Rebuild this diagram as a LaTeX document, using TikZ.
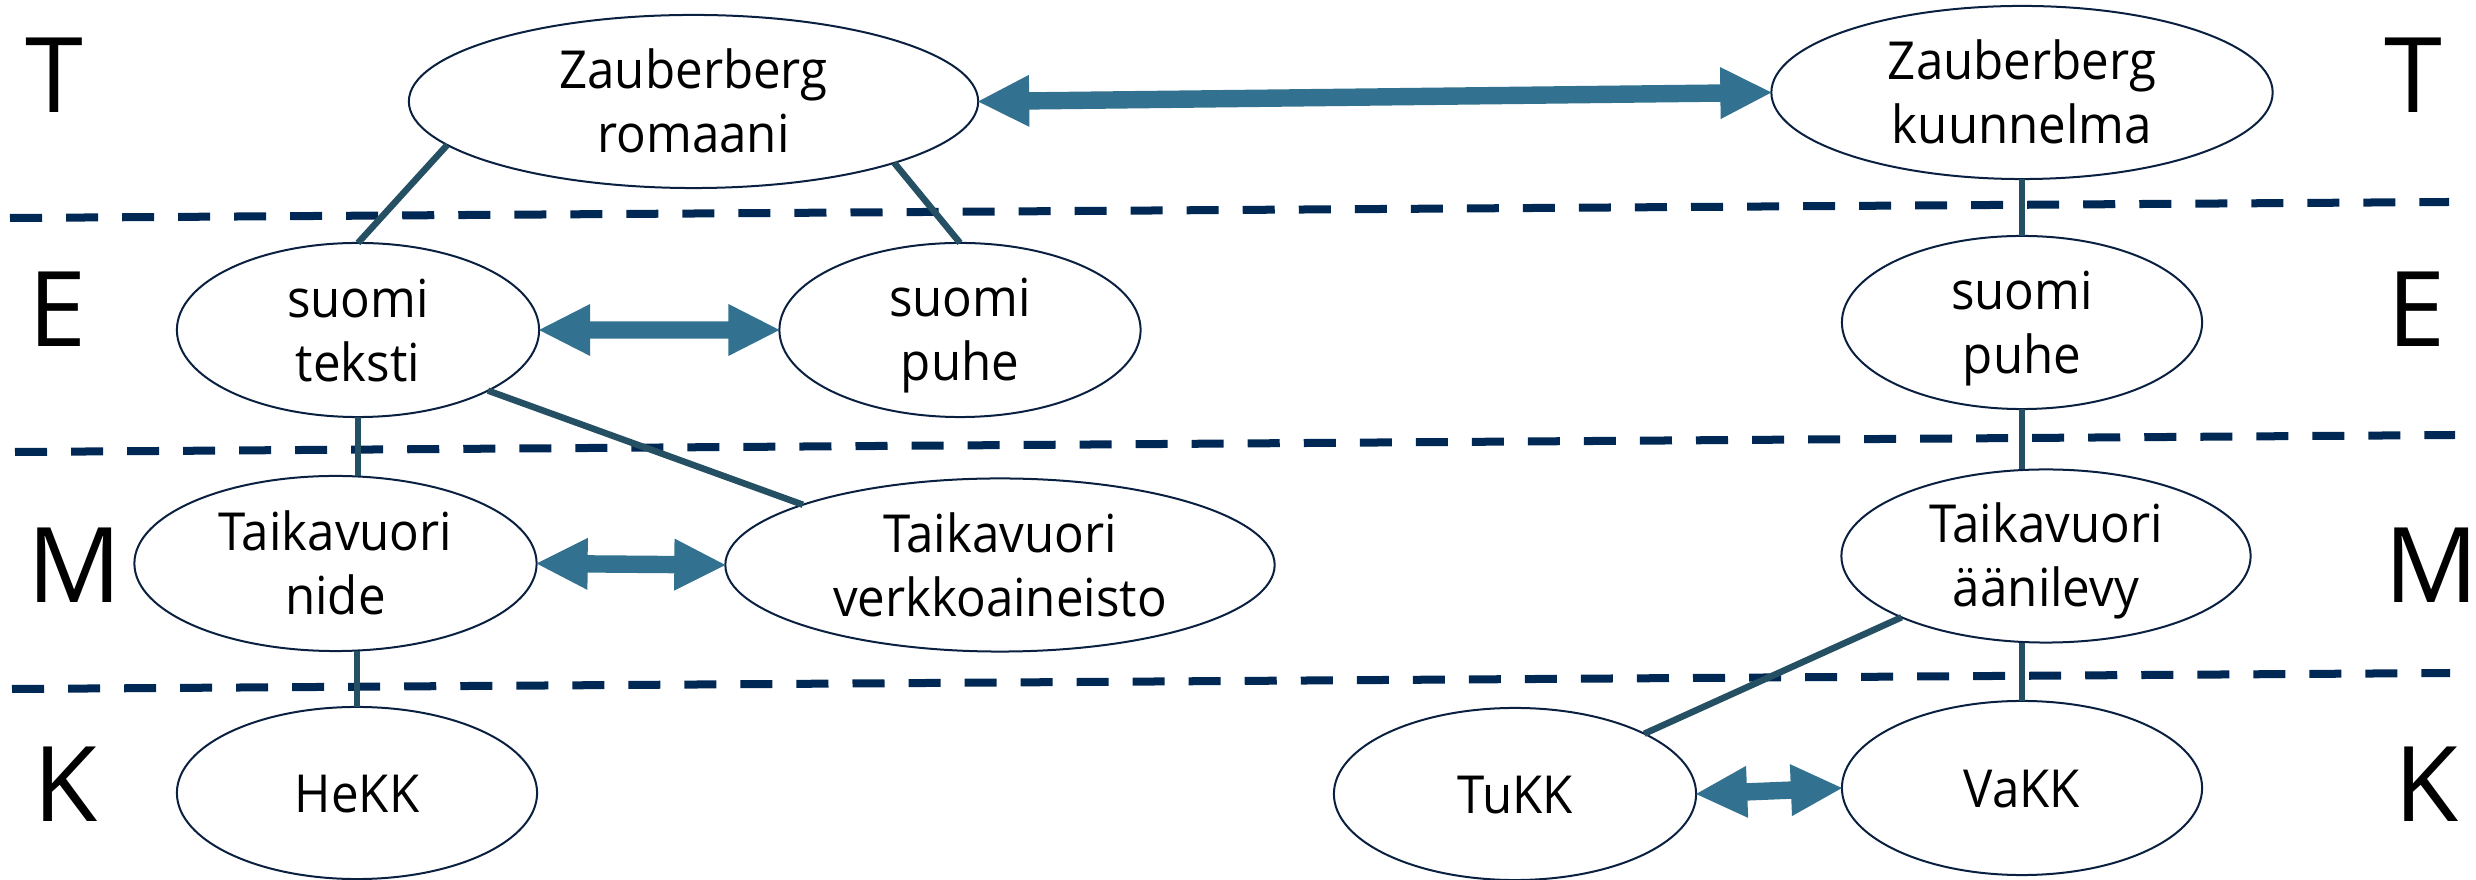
\documentclass[tikz,border=0pt]{standalone}
\usepackage{fontspec}
\setmainfont{Open Sans}
\newfontfamily\nodefamily[FakeStretch=0.94]{Open Sans}
\usetikzlibrary{shapes.geometric,calc}
\definecolor{ellc}{RGB}{10,32,64}
\definecolor{dashc}{RGB}{0,40,85}
\definecolor{linec}{RGB}{37,80,100}
\definecolor{arrc}{RGB}{50,113,143}
\newcommand\nodefont{\nodefamily\fontsize{14.9pt}{18.2pt}\selectfont}
\newcommand\layerfont{\fontsize{29.7pt}{34pt}\selectfont}
\newcommand\tstrut{\rule[-0.12cm]{0pt}{0.62cm}}
\newcommand\blockarrow[2]{%
  \fill[arrc] (#1)
  -- ($(#1)!0.51cm!(#2)!0.26cm!90:(#2)$)
  -- ($(#1)!0.51cm!(#2)!0.087cm!90:(#2)$)
  -- ($(#2)!0.51cm!(#1)!0.087cm!-90:(#1)$)
  -- ($(#2)!0.51cm!(#1)!0.26cm!-90:(#1)$)
  -- (#2)
  -- ($(#2)!0.51cm!(#1)!0.26cm!90:(#1)$)
  -- ($(#2)!0.51cm!(#1)!0.087cm!90:(#1)$)
  -- ($(#1)!0.51cm!(#2)!0.087cm!-90:(#2)$)
  -- ($(#1)!0.51cm!(#2)!0.26cm!-90:(#2)$)
  -- cycle;}
\begin{document}
\begin{tikzpicture}[x=0.01cm,y=-0.01cm,
  ell/.style={draw=ellc, line width=0.02cm, ellipse, inner sep=0pt, outer sep=0pt, fill=white},
  txt/.style={align=center, inner sep=0pt, font=\nodefont, text=black},
  layer/.style={inner sep=0pt, anchor=base, font=\layerfont, text=black},
  conn/.style={draw=linec, line width=0.065cm},
  sep/.style={draw=dashc, line width=0.08cm, dash pattern=on 0.32cm off 0.24cm}]
\useasboundingbox (0,0) rectangle (2476,880);
% layer letters
\node[layer] (tl) at (54,113) {T};
\node[layer] (tr) at (2413,113) {T};
\node[layer] (el) at (58,347) {E};
\node[layer] (er) at (2417,347) {E};
\node[layer] (ml) at (75,603) {M};
\node[layer] (mr) at (2432,603) {M};
\node[layer] (kl) at (66,822) {K};
\node[layer] (kr) at (2427,822) {K};
% separators
\draw[sep] (10,218) -- (2449,202);
\draw[sep] (15,452) -- (2455,435);
\draw[sep] (12,689) -- (2450,673);
% ellipses
\node[ell, minimum width=5.69cm, minimum height=1.73cm] (romaani) at (693.5,101.5) {};
\node[ell, minimum width=5.01cm, minimum height=1.73cm] (kuunnelma) at (2022,92.5) {};
\node[ell, minimum width=3.62cm, minimum height=1.74cm] (teksti) at (358,330) {};
\node[ell, minimum width=3.61cm, minimum height=1.74cm] (puhea) at (960,330) {};
\node[ell, minimum width=3.60cm, minimum height=1.73cm] (puheb) at (2022,322.5) {};
\node[ell, minimum width=4.02cm, minimum height=1.75cm] (nide) at (335.5,563.5) {};
\node[ell, minimum width=5.49cm, minimum height=1.73cm] (verkko) at (1000,565) {};
\node[ell, minimum width=4.09cm, minimum height=1.73cm] (aanilevy) at (2046,556) {};
\node[ell, minimum width=3.60cm, minimum height=1.72cm] (hekk) at (357,793) {};
\node[ell, minimum width=3.62cm, minimum height=1.72cm] (tukk) at (1515,794) {};
\node[ell, minimum width=3.60cm, minimum height=1.74cm] (vakk) at (2022,788) {};
% texts
\node[txt] (romaanit) at (romaani) {\tstrut Zauberberg\\\tstrut romaani};
\node[txt] (kuunnelmat) at (kuunnelma) {\tstrut Zauberberg\\\tstrut kuunnelma};
\node[txt] (tekstit) at (teksti) {\tstrut suomi\\\tstrut teksti};
\node[txt] (puheat) at (puhea) {\tstrut suomi\\\tstrut puhe};
\node[txt] (puhebt) at (puheb) {\tstrut suomi\\\tstrut puhe};
\node[txt] (nidet) at (nide) {\tstrut Taikavuori\\\tstrut nide};
\node[txt] (verkkot) at (verkko) {\tstrut Taikavuori\\\tstrut verkkoaineisto};
\node[txt] (aanilevyt) at (aanilevy) {\tstrut Taikavuori\\\tstrut äänilevy};
\node[txt] (hekkt) at (hekk) {\tstrut HeKK};
\node[txt] (tukkt) at (tukk) {\tstrut TuKK};
\node[txt] (vakkt) at (vakk) {\tstrut VaKK};
% connectors
\draw[conn] (romaani.190.6) -- (teksti.north);
\draw[conn] (romaani.343.4) -- (puhea.north);
\draw[conn] (teksti.south) -- (teksti.south |- nide.north);
\draw[conn] (hekk.north |- nide.south) -- (hekk.north);
\draw[conn] (teksti.335.8) -- (verkko.163.1);
\draw[conn] (kuunnelma.south) -- (puheb.north);
\draw[conn] (puheb.south) -- (puheb.south |- aanilevy.north);
\draw[conn] (vakk.north |- aanilevy.south) -- (vakk.north);
\draw[conn] (aanilevy.203) -- (tukk.25.5);
% block arrows
\blockarrow{romaani.east}{kuunnelma.west}
\blockarrow{teksti.east}{puhea.west}
\blockarrow{nide.east}{verkko.west}
\blockarrow{tukk.east}{vakk.west}
\end{tikzpicture}
\end{document}
